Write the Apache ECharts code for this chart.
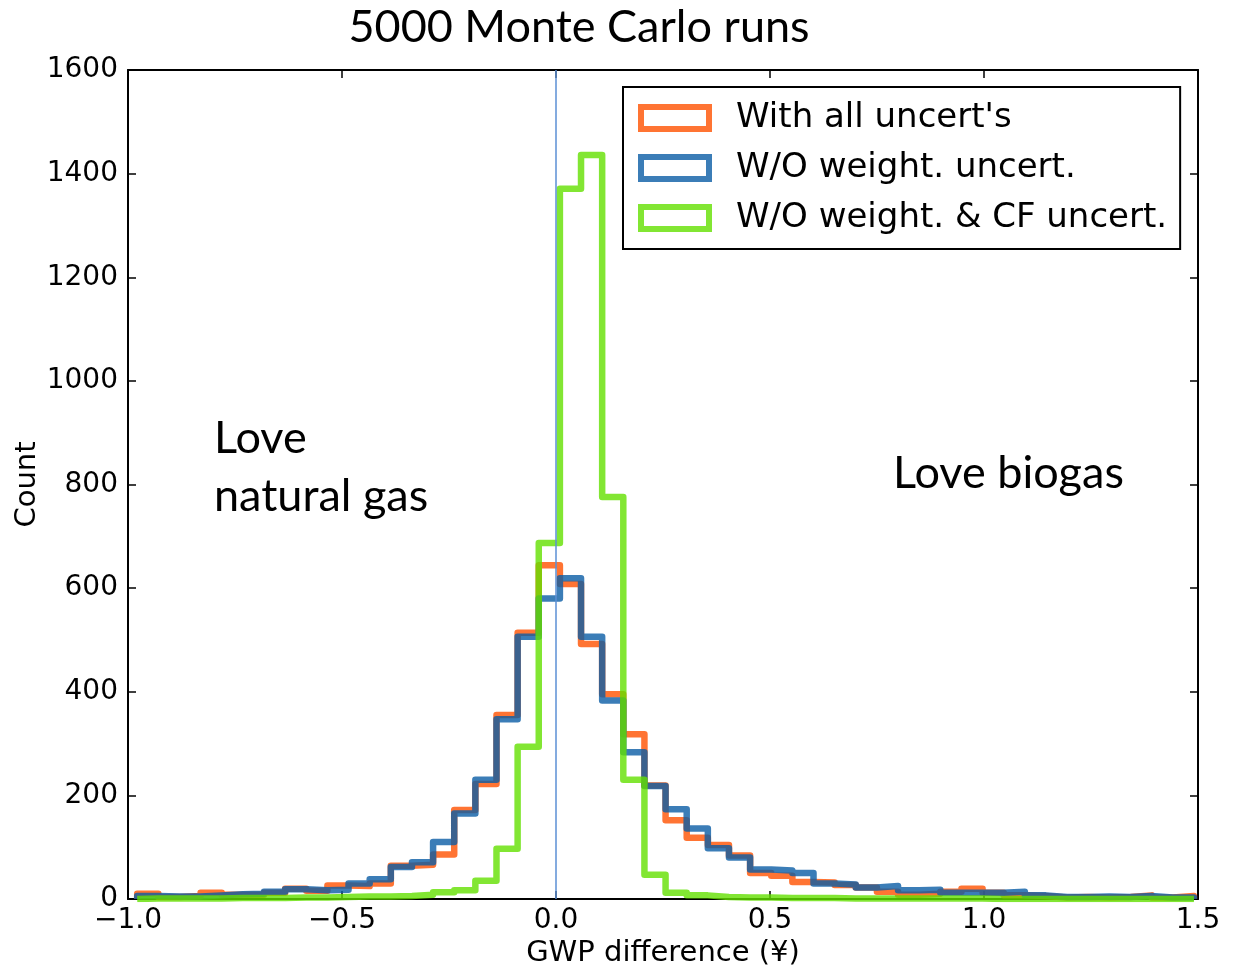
<!DOCTYPE html>
<html>
<head>
<meta charset="utf-8">
<script src="https://cdn.jsdelivr.net/npm/echarts@6/dist/echarts.min.js"></script>
<style>
  html, body { margin: 0; padding: 0; background: #fff; }
  #chart { width: 1238px; height: 967px; }
</style>
</head>
<body>
<div id="chart"></div>
<script>
// ---- data ----
const titleText = '5000 Monte Carlo runs';
const seriesNames = ["With all uncert's", 'W/O weight. uncert.', 'W/O weight. & CF uncert.'];
// histogram: 50 equal bins
const binStart = -0.9785;
const binWidth = 0.04938;
const withAll = [10, 4, 6, 12, 8, 8, 12, 20, 16, 26, 25, 30, 64, 66, 86, 172, 222, 355, 514, 644,
  608, 492, 395, 318, 219, 152, 118, 104, 84, 50, 45, 33, 32, 27, 22, 14, 8, 10, 14, 20,
  12, 7, 6, 3, 4, 3, 4, 7, 3, 6];
const woWeight = [6, 5, 5, 7, 9, 10, 14, 19, 17, 18, 30, 38, 62, 71, 110, 165, 230, 347, 506, 580,
  619, 506, 383, 283, 218, 173, 136, 98, 80, 57, 55, 50, 30, 28, 22, 25, 17, 18, 12, 12,
  12, 14, 7, 4, 4, 5, 4, 6, 3, 3];
const woWeightCF = [1, 1, 1, 1, 2, 2, 2, 3, 3, 4, 5, 5, 6, 8, 13, 17, 35, 97, 294, 687,
  1371, 1436, 776, 230, 47, 12, 7, 4, 3, 3, 2, 2, 2, 1, 1, 1, 1, 1, 1, 1,
  0, 0, 0, 0, 0, 0, 0, 0, 0, 0];
const xTicks = [-1.0, -0.5, 0.0, 0.5, 1.0, 1.5];
const yTicks = [0, 200, 400, 600, 800, 1000, 1200, 1400, 1600];
const annotLeft = ['Love', 'natural gas'];
const annotRight = 'Love biogas';
const xTitle = 'GWP difference (¥)';
const yTitle = 'Count';
const refLineX = 0;

// ---- build step outlines ----
function stepPoints(counts) {
  const pts = [];
  const n = counts.length;
  pts.push([binStart, 0]);
  for (let i = 0; i < n; i++) {
    const a = binStart + binWidth * i;
    const b = binStart + binWidth * (i + 1);
    pts.push([a, counts[i]]);
    pts.push([b, counts[i]]);
  }
  pts.push([binStart + binWidth * n, 0]);
  return pts;
}

const colors = ['rgba(255,81,0,0.8)', 'rgba(10,92,165,0.8)', 'rgba(99,224,0,0.8)'];
const legendColors = ['#ff7433', '#3b7db7', '#82e633'];
const allData = [withAll, woWeight, woWeightCF];

const tickFont = { fontFamily: 'DejaVu Sans', fontSize: 28, color: '#000' };

const series = allData.map((d, i) => ({
  name: seriesNames[i],
  type: 'line',
  data: stepPoints(d),
  symbol: 'none',
  clip: true,
  z: 2 + i,
  lineStyle: { color: colors[i], width: 6.5, join: 'round' },
  itemStyle: { color: colors[i] },
  emphasis: { disabled: true }
}));
// reference line at x = 0
series.push({
  name: 'ref',
  type: 'line',
  data: [[refLineX, yTicks[0]], [refLineX, yTicks[yTicks.length - 1]]],
  symbol: 'none',
  z: 10,
  lineStyle: { color: '#5b8fd4', width: 1.5 },
  emphasis: { disabled: true }
});

const frameLine = { show: true, onZero: false, lineStyle: { color: '#000', width: 2 } };
const frameTick = { show: true, inside: true, length: 8, lineStyle: { color: '#000', width: 1.5 } };

const chart = echarts.init(document.getElementById('chart'), null, { renderer: 'canvas' });
chart.setOption({
  animation: false,
  backgroundColor: '#fff',
  title: {
    text: titleText,
    left: 574, top: 0,
    textAlign: 'center',
    textStyle: { fontFamily: 'Lato', fontSize: 45, fontWeight: 'normal', color: '#000' }
  },
  grid: { left: 128, right: 40, top: 70, bottom: 68, containLabel: false, outerBoundsMode: 'none' },
  legend: {
    orient: 'vertical',
    left: 623, top: 87,
    padding: [14, 13, 14, 15],
    borderColor: '#000', borderWidth: 2,
    backgroundColor: '#fff',
    icon: 'rect',
    itemWidth: 68, itemHeight: 22,
    itemGap: 16,
    selectedMode: false,
    textStyle: { fontFamily: 'DejaVu Sans', fontSize: 34, lineHeight: 34, color: '#000', padding: [0, 0, 0, 22] },
    data: seriesNames.map((n, i) => ({
      name: n,
      itemStyle: { color: 'rgba(255,255,255,0)', borderColor: legendColors[i], borderWidth: 6 }
    }))
  },
  xAxis: [{
    type: 'value', min: xTicks[0], max: xTicks[xTicks.length - 1], interval: 0.5,
    name: xTitle, nameLocation: 'middle', nameGap: 40, nameMoveOverlap: false,
    nameTextStyle: { fontFamily: 'DejaVu Sans', fontSize: 29, color: '#000' },
    axisLine: frameLine, axisTick: frameTick,
    axisLabel: Object.assign({ margin: 8, formatter: v => (v < 0 ? '\u2212' : '') + Math.abs(v).toFixed(1) }, tickFont),
    splitLine: { show: false }
  }, {
    type: 'value', position: 'top', min: xTicks[0], max: xTicks[xTicks.length - 1], interval: 0.5,
    axisLine: frameLine, axisTick: frameTick,
    axisLabel: { show: false }, splitLine: { show: false }
  }],
  yAxis: [{
    type: 'value', min: yTicks[0], max: yTicks[yTicks.length - 1], interval: 200,
    name: yTitle, nameLocation: 'middle', nameGap: 86, nameRotate: 90, nameMoveOverlap: false,
    nameTextStyle: { fontFamily: 'DejaVu Sans', fontSize: 29, color: '#000' },
    axisLine: frameLine, axisTick: frameTick,
    axisLabel: Object.assign({ margin: 10, formatter: v => String(v) }, tickFont),
    splitLine: { show: false }
  }, {
    type: 'value', position: 'right', min: yTicks[0], max: yTicks[yTicks.length - 1], interval: 200,
    axisLine: frameLine, axisTick: frameTick,
    axisLabel: { show: false }, splitLine: { show: false }
  }],
  graphic: [
    { type: 'text', left: 214, top: 409, z: 20,
      style: { text: annotLeft.join('\n'), font: '45px Lato', fill: '#000', lineHeight: 58 } },
    { type: 'text', left: 893, top: 451, z: 20,
      style: { text: annotRight, font: '45px Lato', fill: '#000' } }
  ],
  series: series
});
</script>
</body>
</html>
